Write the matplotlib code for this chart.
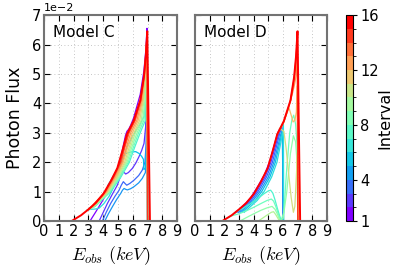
import numpy as np
import matplotlib as mpl
import matplotlib.pyplot as plt
from matplotlib.colors import BoundaryNorm, Normalize

# flux values are in units of 1e-2
red_curve = [(1.85, 0), (2.5, 0.2), (3.0, 0.4), (3.5, 0.62), (4.0, 0.92), (4.5, 1.35),
             (4.95, 1.8), (5.3, 2.4), (5.6, 2.95), (6.05, 3.4), (6.5, 4.1), (6.75, 4.9),
             (6.88, 5.6), (6.98, 6.45), (7.16, 0)]

c_intervals = [1, 2, 3, 4, 5, 6, 7, 8, 9, 10, 11, 12, 13, 14, 15]
c_curves = [
    [(3.1, 0), (3.5, 0.32), (3.9, 0.65), (4.3, 1.0), (4.7, 1.45), (5.0, 1.85), (5.2, 2.2), (5.35, 2.55),
     (5.5, 2.9), (5.6, 3.05), (5.72, 3.12), (5.85, 3.25), (6.05, 3.5), (6.5, 4.3), (6.75, 5.1),
     (6.88, 5.8), (6.96, 6.55), (7.0, 0)],
    [(3.72, 0), (4.0, 0.3), (4.28, 0.6), (4.6, 0.9), (4.95, 1.22), (5.15, 1.5), (5.29, 1.68), (5.4, 1.66),
     (5.52, 1.6), (5.7, 1.65), (5.97, 1.79), (6.2, 1.97), (6.42, 2.19), (6.6, 2.4), (6.76, 2.64),
     (6.87, 3.2), (6.93, 4.3), (6.96, 5.5), (6.98, 6.35), (7.0, 0)],
    [(3.94, 0), (4.2, 0.3), (4.5, 0.6), (4.8, 0.85), (5.07, 1.05), (5.22, 1.22), (5.36, 1.34), (5.47, 1.28),
     (5.59, 1.22), (5.8, 1.28), (6.08, 1.39), (6.4, 1.55), (6.64, 1.73), (6.82, 2.0), (6.9, 2.6),
     (6.95, 4.0), (6.98, 6.2), (7.0, 0)],
    [(4.1, 0), (4.35, 0.25), (4.62, 0.49), (4.9, 0.73), (5.18, 0.94), (5.3, 1.05), (5.41, 1.11), (5.52, 1.08),
     (5.63, 1.06), (5.85, 1.1), (6.08, 1.17), (6.4, 1.3), (6.64, 1.45), (6.85, 1.65), (6.92, 2.2),
     (6.96, 3.8), (6.99, 6.1), (7.0, 0)],
    [(4.3, 1.2), (4.7, 1.55), (5.07, 1.85), (5.29, 2.15), (5.45, 2.27), (5.63, 2.32), (5.9, 2.35), (6.2, 2.36),
     (6.42, 2.3), (6.6, 2.2), (6.72, 2.1), (6.75, 1.75), (6.85, 1.8), (6.92, 2.5), (6.96, 4.5),
     (6.98, 6.3), (7.0, 0)],
    [(2.9, 0.37), (3.15, 0.4), (3.45, 0.41), (3.72, 0.44), (4.05, 0.6), (4.4, 0.85), (4.7, 1.15), (4.95, 1.5),
     (5.3, 2.05), (5.6, 2.5), (6.0, 2.9), (6.5, 3.3), (6.8, 3.6), (6.9, 4.2), (6.96, 5.8), (6.98, 6.35), (7.0, 0)],
    [(2.95, 0.38), (3.45, 0.5), (4.5, 1.0), (5.2, 1.5), (5.77, 2.0), (6.12, 2.5), (6.5, 3.0), (6.86, 3.43),
     (6.92, 4.1), (6.93, 5.0), (6.96, 6.0), (6.97, 6.4), (7.0, 0)],
    [(2.95, 0.38), (3.42, 0.5), (4.45, 1.0), (5.13, 1.5), (5.69, 2.0), (6.03, 2.5), (6.39, 3.0), (6.76, 3.43),
     (6.87, 4.1), (6.91, 5.0), (6.955, 6.0), (6.97, 6.4), (7.0, 0)],
    [(2.95, 0.38), (3.39, 0.5), (4.4, 1.0), (5.06, 1.5), (5.61, 2.0), (5.93, 2.5), (6.29, 3.0), (6.67, 3.43),
     (6.82, 4.1), (6.89, 5.0), (6.95, 6.0), (6.97, 6.4), (7.0, 0)],
    [(2.95, 0.38), (3.36, 0.5), (4.35, 1.0), (4.99, 1.5), (5.53, 2.0), (5.84, 2.5), (6.18, 3.0), (6.57, 3.43),
     (6.76, 4.1), (6.87, 5.0), (6.945, 6.0), (6.97, 6.4), (7.0, 0)],
    [(2.95, 0.38), (3.33, 0.5), (4.3, 1.0), (4.93, 1.5), (5.45, 2.0), (5.75, 2.5), (6.08, 3.0), (6.47, 3.43),
     (6.71, 4.1), (6.85, 5.0), (6.94, 6.0), (6.97, 6.4), (7.0, 0)],
    [(2.95, 0.38), (3.29, 0.5), (4.25, 1.0), (4.86, 1.5), (5.36, 2.0), (5.65, 2.5), (5.97, 3.0), (6.37, 3.43),
     (6.66, 4.1), (6.83, 5.0), (6.935, 6.0), (6.97, 6.4), (7.0, 0)],
    [(2.95, 0.38), (3.26, 0.5), (4.2, 1.0), (4.79, 1.5), (5.28, 2.0), (5.56, 2.5), (5.86, 3.0), (6.28, 3.43),
     (6.6, 4.1), (6.81, 5.0), (6.93, 6.0), (6.97, 6.4), (7.0, 0)],
    [(2.95, 0.38), (3.23, 0.5), (4.15, 1.0), (4.72, 1.5), (5.2, 2.0), (5.46, 2.5), (5.76, 3.0), (6.18, 3.43),
     (6.55, 4.1), (6.79, 5.0), (6.925, 6.0), (6.97, 6.4), (7.0, 0)],
    [(2.95, 0.38), (3.22, 0.5), (4.12, 1.0), (4.68, 1.5), (5.16, 2.0), (5.42, 2.5), (5.7, 3.0), (6.13, 3.43),
     (6.53, 4.1), (6.78, 5.0), (6.92, 6.0), (6.97, 6.4), (7.0, 0)],
]

d_intervals = [1, 2, 3, 4, 5, 6, 7, 8, 9, 10, 11, 12, 13, 14, 15]
d_curves = [
    [(2.7, 0.28), (3.2, 0.47), (3.8, 0.8), (4.3, 1.2), (4.75, 1.6), (5.1, 2.05), (5.35, 2.5), (5.55, 2.85),
     (5.68, 3.05), (5.8, 3.15), (5.92, 3.2), (5.98, 3.0), (6.0, 0)],
    [(2.85, 0.3), (3.73, 0.7), (4.19, 1.0), (4.77, 1.5), (5.17, 2.0), (5.45, 2.5), (5.72, 3.0), (5.85, 3.15),
     (5.96, 3.1), (6.0, 0)],
    [(2.95, 0.3), (3.83, 0.7), (4.29, 1.0), (4.87, 1.5), (5.27, 2.0), (5.53, 2.5), (5.78, 3.0), (5.9, 3.12),
     (5.97, 3.05), (6.01, 0)],
    [(3.07, 0.3), (3.95, 0.7), (4.41, 1.0), (4.99, 1.5), (5.37, 2.0), (5.62, 2.5), (5.84, 2.95), (5.94, 3.08),
     (6.02, 0)],
    [(3.2, 0.3), (4.08, 0.7), (4.54, 1.0), (5.1, 1.5), (5.47, 2.0), (5.7, 2.5), (5.88, 2.9), (5.97, 3.05),
     (6.02, 0)],
    [(3.35, 0.3), (4.23, 0.7), (4.7, 1.0), (5.22, 1.5), (5.58, 2.0), (5.78, 2.5), (5.93, 2.9), (6.02, 3.3),
     (6.04, 0)],
    [(2.3, 0.12), (2.8, 0.3), (3.3, 0.45), (3.8, 0.6), (4.3, 0.78), (4.7, 0.93), (5.0, 1.03), (5.15, 1.05),
     (5.3, 0.95), (5.45, 0.72), (5.6, 0.45), (5.75, 0.2), (5.88, 0)],
    [(2.5, 0.18), (3.0, 0.25), (3.5, 0.35), (4.0, 0.47), (4.5, 0.6), (4.9, 0.7), (5.2, 0.75), (5.35, 0.68),
     (5.5, 0.5), (5.65, 0.28), (5.85, 0), (6.05, 0.3), (6.25, 1.8), (6.45, 3.0), (6.6, 3.45), (6.72, 3.6),
     (6.85, 3.3), (6.95, 2.6), (7.0, 0)],
    [(3.05, 0), (3.5, 0.12), (4.0, 0.25), (4.5, 0.37), (4.9, 0.45), (5.25, 0.5), (5.45, 0.4), (5.6, 0.25),
     (5.8, 0), (6.0, 0.1), (6.25, 1.0), (6.5, 2.3), (6.7, 2.9), (6.85, 2.7), (6.95, 2.0), (7.0, 0)],
    [(4.3, 0), (4.6, 0.1), (4.95, 0.22), (5.2, 0.3), (5.35, 0.32), (5.5, 0.22), (5.7, 0.05), (5.78, 0)],
    [(5.75, 3.15), (6.05, 3.05), (6.2, 2.5), (6.4, 1.5), (6.55, 0.8), (6.7, 0.3), (6.8, 0.5), (6.9, 1.5),
     (6.97, 2.3), (7.0, 0)],
    [(5.6, 2.95), (6.05, 3.38), (6.4, 3.85), (6.55, 3.6), (6.68, 3.37), (6.8, 3.42), (6.9, 3.7), (6.97, 4.6),
     (7.0, 0)],
    [(5.6, 2.93), (6.05, 3.36), (6.45, 4.0), (6.62, 4.3), (6.78, 4.65), (6.9, 5.0), (6.97, 5.4), (7.0, 0)],
    [(5.6, 2.95), (6.05, 3.38), (6.5, 4.08), (6.7, 4.6), (6.84, 5.2), (6.94, 5.9), (6.98, 6.2), (7.0, 0)],
    [(6.5, 4.1), (6.75, 4.85), (6.88, 5.55), (6.97, 6.3), (7.0, 0)],
]

x_ticks = [0, 1, 2, 3, 4, 5, 6, 7, 8, 9]
y_ticks = [0, 1, 2, 3, 4, 5, 6, 7]
cbar_ticks = [1, 4, 8, 12, 16]

plt.rcParams['mathtext.fontset'] = 'cm'
plt.rcParams['font.family'] = 'DejaVu Sans'

cmap = plt.get_cmap('rainbow')
line_norm = Normalize(1, 16)

fig = plt.figure(figsize=(3.98, 2.74), dpi=100)
ax_c = fig.add_axes([0.111, 0.193, 0.334, 0.752])
ax_d = fig.add_axes([0.490, 0.193, 0.332, 0.752])
cax = fig.add_axes([0.869, 0.193, 0.019, 0.752])

for ax, intervals, curves, name in [(ax_c, c_intervals, c_curves, 'Model C'),
                                    (ax_d, d_intervals, d_curves, 'Model D')]:
    for v, pts in zip(intervals, curves):
        e = [p[0] for p in pts]
        f = [p[1] * 1e-2 for p in pts]
        ax.plot(e, f, color=cmap(line_norm(v)), lw=0.9)
    ax.plot([p[0] for p in red_curve], [p[1] * 1e-2 for p in red_curve],
            color=cmap(line_norm(16)), lw=1.4)
    ax.set_xlim(0, 9)
    ax.set_ylim(0, 0.07)
    ax.set_xticks(x_ticks)
    ax.set_yticks([t * 1e-2 for t in y_ticks])
    ax.ticklabel_format(style='sci', axis='y', scilimits=(0, 0))
    ax.yaxis.get_offset_text().set_fontsize(8)
    ax.grid(True, ls=(0, (1, 3)), color='0.7', lw=0.6)
    ax.tick_params(direction='in', top=True, right=True, length=4, width=0.8, labelsize=10.5, pad=2)
    for s in ax.spines.values():
        s.set_color('0.45')
        s.set_linewidth(1.5)
    ax.text(0.07, 0.95, name, transform=ax.transAxes, fontsize=11, va='top')
    ax.set_xlabel(r'$E_{obs}\ (keV)$', fontsize=13, labelpad=4)

ax_d.tick_params(labelleft=False)
ax_c.set_ylabel('Photon Flux', fontsize=12.5, labelpad=6)

cmap_d = plt.get_cmap('rainbow', 15)
bnorm = BoundaryNorm(np.arange(1, 17), 15)
cb = fig.colorbar(mpl.cm.ScalarMappable(norm=bnorm, cmap=cmap_d), cax=cax, ticks=cbar_ticks)
cb.ax.tick_params(labelsize=10.5, length=3, pad=2)
cb.set_label('Interval', fontsize=11.5, labelpad=-1)

fig.savefig('out.png', dpi=100)
